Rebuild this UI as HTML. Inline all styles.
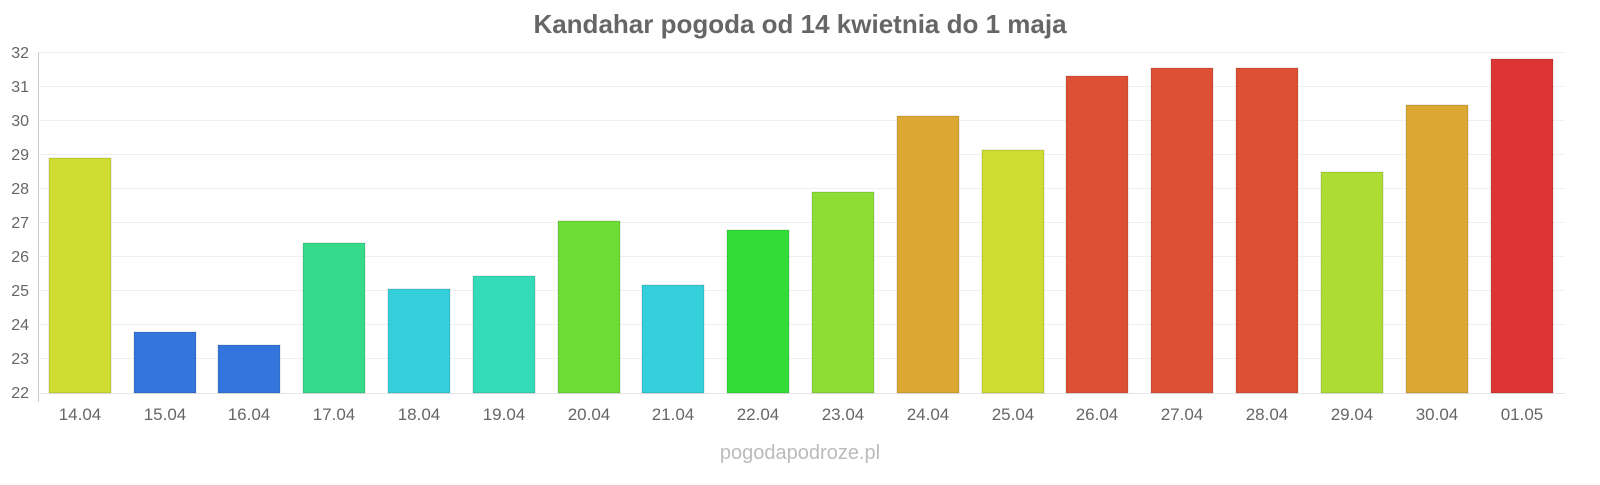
<!DOCTYPE html>
<html><head><meta charset="utf-8"><style>
body{margin:0;background:#fff;}
svg text{font-family:"Liberation Sans",Arial,sans-serif;}
</style></head><body>
<svg width="1600" height="480" viewBox="0 0 1600 480" xmlns="http://www.w3.org/2000/svg">
<text x="800" y="33" text-anchor="middle" font-size="26" font-weight="bold" fill="#666">Kandahar pogoda od 14 kwietnia do 1 maja</text>
<g stroke="#f0f0f0" stroke-width="1">
<line x1="38" x2="1565" y1="52.5" y2="52.5"/><line x1="38" x2="1565" y1="86.5" y2="86.5"/><line x1="38" x2="1565" y1="120.5" y2="120.5"/><line x1="38" x2="1565" y1="154.5" y2="154.5"/><line x1="38" x2="1565" y1="188.5" y2="188.5"/><line x1="38" x2="1565" y1="222.5" y2="222.5"/><line x1="38" x2="1565" y1="256.5" y2="256.5"/><line x1="38" x2="1565" y1="290.5" y2="290.5"/><line x1="38" x2="1565" y1="324.5" y2="324.5"/><line x1="38" x2="1565" y1="358.5" y2="358.5"/>
</g>
<line x1="38.5" x2="38.5" y1="52" y2="402" stroke="#ccc"/>
<line x1="38" x2="1565" y1="393.5" y2="393.5" stroke="#e6e6e6"/>
<g font-size="16" fill="#666" text-anchor="end">
<text x="29" y="58">32</text><text x="29" y="92">31</text><text x="29" y="126">30</text><text x="29" y="160">29</text><text x="29" y="194">28</text><text x="29" y="228">27</text><text x="29" y="262">26</text><text x="29" y="296">25</text><text x="29" y="330">24</text><text x="29" y="364">23</text><text x="29" y="398">22</text>
</g>
<g stroke-opacity="0.3" stroke="#000" stroke-width="0.5">
<rect x="49" y="158" width="62" height="235" fill="#cfdd32"/>
<rect x="134" y="332" width="62" height="61" fill="#3375dd"/>
<rect x="218" y="345" width="62" height="48" fill="#3375dd"/>
<rect x="303" y="243" width="62" height="150" fill="#35db8b"/>
<rect x="388" y="289" width="62" height="104" fill="#35cfdb"/>
<rect x="473" y="276" width="62" height="117" fill="#33dbb8"/>
<rect x="558" y="221" width="62" height="172" fill="#6ddd35"/>
<rect x="642" y="285" width="62" height="108" fill="#35cfdb"/>
<rect x="727" y="230" width="62" height="163" fill="#33dd38"/>
<rect x="812" y="192" width="62" height="201" fill="#8ddd35"/>
<rect x="897" y="116" width="62" height="277" fill="#dba833"/>
<rect x="982" y="150" width="62" height="243" fill="#cfdd32"/>
<rect x="1066" y="76" width="62" height="317" fill="#dd5033"/>
<rect x="1151" y="68" width="62" height="325" fill="#dd5033"/>
<rect x="1236" y="68" width="62" height="325" fill="#dd5033"/>
<rect x="1321" y="172" width="62" height="221" fill="#addd33"/>
<rect x="1406" y="105" width="62" height="288" fill="#dba833"/>
<rect x="1491" y="59" width="62" height="334" fill="#dd3535"/>
</g>
<g font-size="17" fill="#666" text-anchor="middle">
<text x="80" y="420">14.04</text><text x="165" y="420">15.04</text><text x="249" y="420">16.04</text><text x="334" y="420">17.04</text><text x="419" y="420">18.04</text><text x="504" y="420">19.04</text><text x="589" y="420">20.04</text><text x="673" y="420">21.04</text><text x="758" y="420">22.04</text><text x="843" y="420">23.04</text><text x="928" y="420">24.04</text><text x="1013" y="420">25.04</text><text x="1097" y="420">26.04</text><text x="1182" y="420">27.04</text><text x="1267" y="420">28.04</text><text x="1352" y="420">29.04</text><text x="1437" y="420">30.04</text><text x="1522" y="420">01.05</text>
</g>
<text x="800" y="459" text-anchor="middle" font-size="20" fill="#bbb">pogodapodroze.pl</text>
</svg>
</body></html>
